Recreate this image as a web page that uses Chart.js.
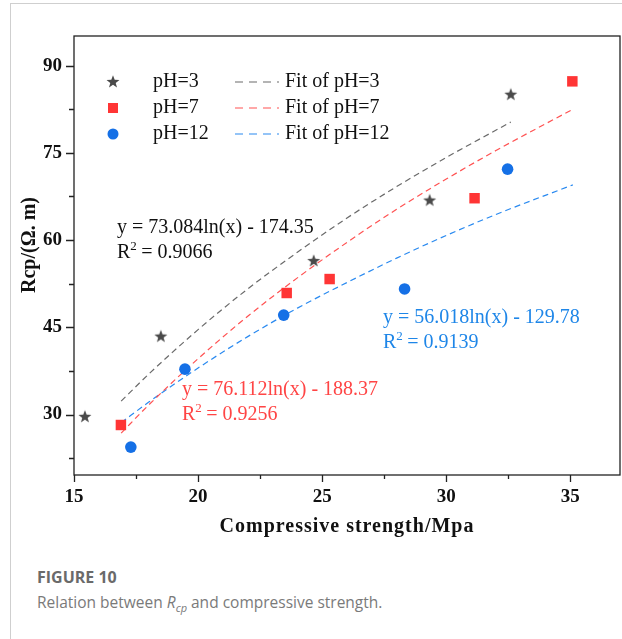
<!DOCTYPE html>
<html>
<head>
<meta charset="utf-8">
<script src="https://cdn.jsdelivr.net/npm/chart.js@4.4.1/dist/chart.umd.min.js"></script>
<style>
  body { margin: 0; background: #fff; }
  #wrap { position: relative; width: 622px; height: 639px; overflow: hidden; }
  #frame { position: absolute; left: 10px; top: 3px; right: -5px; bottom: -5px;
           border-left: 1px solid #cfcfcf; border-top: 1px solid #cfcfcf; }
  #c { position: absolute; left: 0; top: 0; }
  .cap { position: absolute; left: 37px; font-family: "Open Sans", sans-serif; color: #7a7a7a; }
  #fig { top: 566px; font-size: 16px; font-weight: 700; color: #6a6a6a; }
  #desc { top: 591px; font-size: 15.5px; }
  #desc sub { font-size: 11px; }
</style>
</head>
<body>
<div id="wrap">
  <div id="frame"></div>
  <canvas id="c" width="622" height="545"></canvas>
  <div class="cap" id="fig">FIGURE 10</div>
  <div class="cap" id="desc">Relation between <i>R<sub>cp</sub></i> and compressive strength.</div>
</div>
<script>
// measured points
const ph3X = [15.44, 18.5, 24.66, 29.33, 32.6];
const ph3Y = [29.6, 43.4, 56.4, 66.8, 85.0];
const ph7X = [16.89, 23.57, 25.3, 31.14, 35.08];
const ph7Y = [28.2, 50.9, 53.3, 67.2, 87.3];
const ph12X = [17.29, 19.47, 23.45, 28.32, 32.47];
const ph12Y = [24.4, 37.8, 47.1, 51.6, 72.2];

// fitted curves
const fit3X = [16.9, 18, 20, 22, 24, 26, 28, 30, 32.6];
const fit3Y = [32.3, 36.9, 44.6, 51.6, 57.9, 63.8, 69.2, 74.2, 80.3];
const fit7X = [16.9, 18, 20, 22, 24, 26, 28, 30, 32, 35.1];
const fit7Y = [26.8, 31.6, 39.6, 46.9, 53.5, 59.6, 65.3, 70.5, 75.4, 82.5];
const fit12X = [16.9, 18, 20, 22, 24, 26, 28, 30, 32, 35.1];
const fit12Y = [28.6, 32.1, 38.0, 43.4, 48.3, 52.7, 56.9, 60.8, 64.4, 69.5];

// axis ticks
const xMajor = [15, 20, 25, 30, 35];
const xMinor = [17.5, 22.5, 27.5, 32.5];
const yMajor = [30, 45, 60, 75, 90];
const yMinor = [22.5, 37.5, 52.5, 67.5, 82.5];

const serif = '"Liberation Serif", "Times New Roman", serif';
const gray = '#4a4a4a', red = '#ff3535', blue = '#1570e6';
const grayFit = '#6a6a6a', redFit = '#ff5252', blueFit = '#2a8af0';

function makeStar(color, r) {
  const c = document.createElement('canvas');
  c.width = c.height = Math.ceil(r * 2 + 2);
  const g = c.getContext('2d');
  drawStar(g, c.width / 2, c.height / 2, r, color);
  return c;
}

function drawStar(g, cx, cy, r, color) {
  g.beginPath();
  for (let i = 0; i < 10; i++) {
    const rad = i % 2 ? r * 0.42 : r;
    const a = -Math.PI / 2 + i * Math.PI / 5;
    g.lineTo(cx + rad * Math.cos(a), cy + rad * Math.sin(a));
  }
  g.closePath();
  g.fillStyle = color;
  g.fill();
}

const pts = (xs, ys) => xs.map((v, i) => ({ x: v, y: ys[i] }));

const starImg = makeStar(gray, 6.8);

const extras = {
  id: 'extras',
  afterDraw(chart) {
    const { ctx, chartArea: a, scales: { x, y } } = chart;
    ctx.save();
    // box
    ctx.strokeStyle = '#222';
    ctx.lineWidth = 1.3;
    ctx.strokeRect(a.left, a.top, a.right - a.left, a.bottom - a.top);

    // tick marks
    ctx.beginPath();
    xMajor.concat(xMinor).forEach(v => {
      const px = Math.round(x.getPixelForValue(v)) + 0.5;
      ctx.moveTo(px, a.bottom);
      ctx.lineTo(px, a.bottom + (xMajor.includes(v) ? 7 : 4));
    });
    yMajor.concat(yMinor).forEach(v => {
      const py = Math.round(y.getPixelForValue(v)) + 0.5;
      ctx.moveTo(a.left, py);
      ctx.lineTo(a.left - (yMajor.includes(v) ? 8 : 5), py);
    });
    ctx.stroke();

    // axis titles
    ctx.fillStyle = '#111';
    ctx.font = 'bold 20px ' + serif;
    ctx.textAlign = 'center';
    ctx.textBaseline = 'middle';
    ctx.letterSpacing = '1px';
    ctx.fillText('Compressive strength/Mpa', (a.left + a.right) / 2, 527);
    ctx.letterSpacing = '0px';
    ctx.save();
    ctx.translate(30, 245);
    ctx.rotate(-Math.PI / 2);
    ctx.fillText('Rcp/(\u03A9. m)', 0, 0);
    ctx.restore();

    // legend
    ctx.font = '20px ' + serif;
    ctx.textAlign = 'left';
    const rows = [
      { y: 82, label: 'pH=3', fit: 'Fit of pH=3', color: grayFit, sym: 'star' },
      { y: 108, label: 'pH=7', fit: 'Fit of pH=7', color: redFit, sym: 'rect' },
      { y: 134, label: 'pH=12', fit: 'Fit of pH=12', color: blueFit, sym: 'circle' }
    ];
    rows.forEach(r => {
      if (r.sym === 'star') drawStar(ctx, 113, r.y, 6.8, gray);
      if (r.sym === 'rect') { ctx.fillStyle = red; ctx.fillRect(108, r.y - 5, 10, 10); }
      if (r.sym === 'circle') {
        ctx.fillStyle = blue; ctx.beginPath(); ctx.arc(113, r.y, 5.5, 0, Math.PI * 2); ctx.fill();
      }
      ctx.fillStyle = '#111';
      ctx.fillText(r.label, 153, r.y);
      ctx.strokeStyle = r.color;
      ctx.lineWidth = 1.1;
      ctx.setLineDash([8, 6]);
      ctx.beginPath();
      ctx.moveTo(235, r.y); ctx.lineTo(279, r.y);
      ctx.stroke();
      ctx.setLineDash([]);
      ctx.fillStyle = '#111';
      ctx.fillText(r.fit, 285, r.y);
    });

    // fit equations
    const eq = (txt, r2, px, py, color) => {
      ctx.fillStyle = color;
      ctx.fillText(txt, px, py);
      ctx.fillText('R', px, py + 25);
      const w = ctx.measureText('R').width;
      ctx.font = '13px ' + serif;
      ctx.fillText('2', px + w, py + 19);
      ctx.font = '20px ' + serif;
      ctx.fillText(' = ' + r2, px + w + 6, py + 25);
    };
    eq('y = 73.084ln(x) - 174.35', '0.9066', 117, 228, '#111');
    eq('y = 76.112ln(x) - 188.37', '0.9256', 182, 390, '#ff4545');
    eq('y = 56.018ln(x) - 129.78', '0.9139', 383, 318, '#1e86e8');
    ctx.restore();
  }
};

const fitLine = (data, color) => ({
  type: 'line', data, borderColor: color, borderWidth: 1.2, borderDash: [6, 4],
  pointRadius: 0, fill: false, cubicInterpolationMode: 'monotone', order: 2
});

new Chart(document.getElementById('c'), {
  type: 'scatter',
  data: {
    datasets: [
      fitLine(pts(fit3X, fit3Y), grayFit),
      fitLine(pts(fit7X, fit7Y), redFit),
      fitLine(pts(fit12X, fit12Y), blueFit),
      { label: 'pH=3', data: pts(ph3X, ph3Y), pointStyle: starImg, order: 1 },
      { label: 'pH=7', data: pts(ph7X, ph7Y), pointStyle: 'rect', pointRadius: 7.4,
        backgroundColor: red, borderColor: red, borderWidth: 0, order: 1 },
      { label: 'pH=12', data: pts(ph12X, ph12Y), pointStyle: 'circle', pointRadius: 5.8,
        backgroundColor: blue, borderColor: blue, borderWidth: 0, order: 1 }
    ]
  },
  options: {
    responsive: false,
    animation: false,
    // no auto padding for point radius, the box must reach the right edge
    layout: { autoPadding: false, padding: { top: 36, right: 2, left: 0, bottom: 0 } },
    plugins: { legend: { display: false }, tooltip: { enabled: false } },
    scales: {
      x: {
        type: 'linear', min: 15, max: 37,
        afterBuildTicks: s => { s.ticks = xMajor.map(v => ({ value: v })); },
        afterFit: s => { s.height = 70; s.paddingRight = 0; s.paddingLeft = 0; },
        grid: { display: false, drawTicks: false },
        border: { display: false },
        ticks: { padding: 11, color: '#111', font: { family: serif, size: 19, weight: 'bold' } }
      },
      y: {
        min: 19.6, max: 95.1,
        afterBuildTicks: s => { s.ticks = yMajor.map(v => ({ value: v })); },
        afterFit: s => { s.width = 74; },
        grid: { display: false, drawTicks: false },
        border: { display: false },
        ticks: { padding: 12, color: '#111', font: { family: serif, size: 19, weight: 'bold' } }
      }
    }
  },
  plugins: [extras]
});
</script>
</body>
</html>
